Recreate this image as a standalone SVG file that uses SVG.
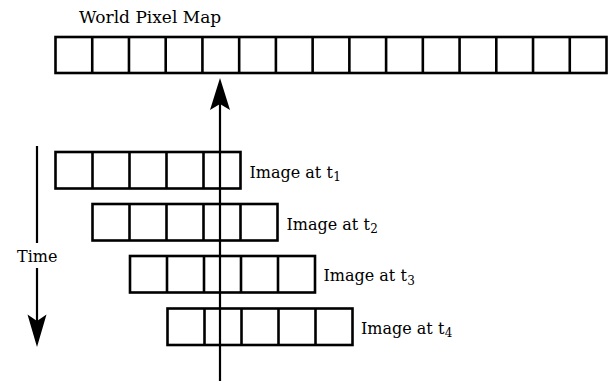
<svg xmlns="http://www.w3.org/2000/svg" width="614" height="384" viewBox="0 0 614 384">
  <style>
    .cell { fill: none; stroke: #000; stroke-width: 2.6; }
    .lbl { font-family: 'DejaVu Serif', serif; font-size: 16px; fill: #000; }
    .sub { font-size: 12px; }
    .ln { stroke: #000; stroke-width: 2.2; fill: none; }
    .head { fill: #000; stroke: none; }
  </style>
  <defs>
    <g id="row5">
      <rect class="cell" x="0" y="0" width="185" height="36.5"/>
      <line class="cell" x1="37" y1="0" x2="37" y2="36.5"/>
      <line class="cell" x1="74" y1="0" x2="74" y2="36.5"/>
      <line class="cell" x1="111" y1="0" x2="111" y2="36.5"/>
      <line class="cell" x1="148" y1="0" x2="148" y2="36.5"/>
    </g>
  </defs>
  <rect width="614" height="384" fill="#fff"/>

  <g id="world-pixel-map">
    <text class="lbl" x="79" y="23" style="font-size:17px">World Pixel Map</text>
    <rect class="cell" x="55.5" y="37" width="551" height="36"/>
    <path class="cell" d="M92.23,37V73 M128.97,37V73 M165.7,37V73 M202.43,37V73 M239.17,37V73 M275.9,37V73 M312.63,37V73 M349.37,37V73 M386.1,37V73 M422.83,37V73 M459.57,37V73 M496.3,37V73 M533.03,37V73 M569.77,37V73"/>
  </g>

  <g id="image-t1">
    <use href="#row5" x="55.5" y="152"/>
    <text class="lbl" x="249.5" y="177.5">Image at t<tspan class="sub" dx="0.5" dy="3.5">1</tspan></text>
  </g>
  <g id="image-t2">
    <use href="#row5" x="92.5" y="204"/>
    <text class="lbl" x="286.5" y="229.5">Image at t<tspan class="sub" dx="0.5" dy="3.5">2</tspan></text>
  </g>
  <g id="image-t3">
    <use href="#row5" x="130" y="256"/>
    <text class="lbl" x="323.5" y="281">Image at t<tspan class="sub" dx="0.5" dy="3.5">3</tspan></text>
  </g>
  <g id="image-t4">
    <use href="#row5" x="167.5" y="308.5"/>
    <text class="lbl" x="361" y="333.5">Image at t<tspan class="sub" dx="0.5" dy="3.5">4</tspan></text>
  </g>

  <g id="time-axis">
    <line class="ln" x1="37" y1="146" x2="37" y2="243"/>
    <text class="lbl" x="17" y="261.5">Time</text>
    <line class="ln" x1="37" y1="268" x2="37" y2="325"/>
    <path class="head" d="M37,347 L46.5,314.5 L37,321 L27.5,314.5 Z"/>
  </g>

  <g id="connectors">
    <line class="ln" x1="220" y1="381" x2="220" y2="100"/>
    <path class="head" d="M220,78 L230,110 L220,104 L210,110 Z"/>
  </g>
</svg>
